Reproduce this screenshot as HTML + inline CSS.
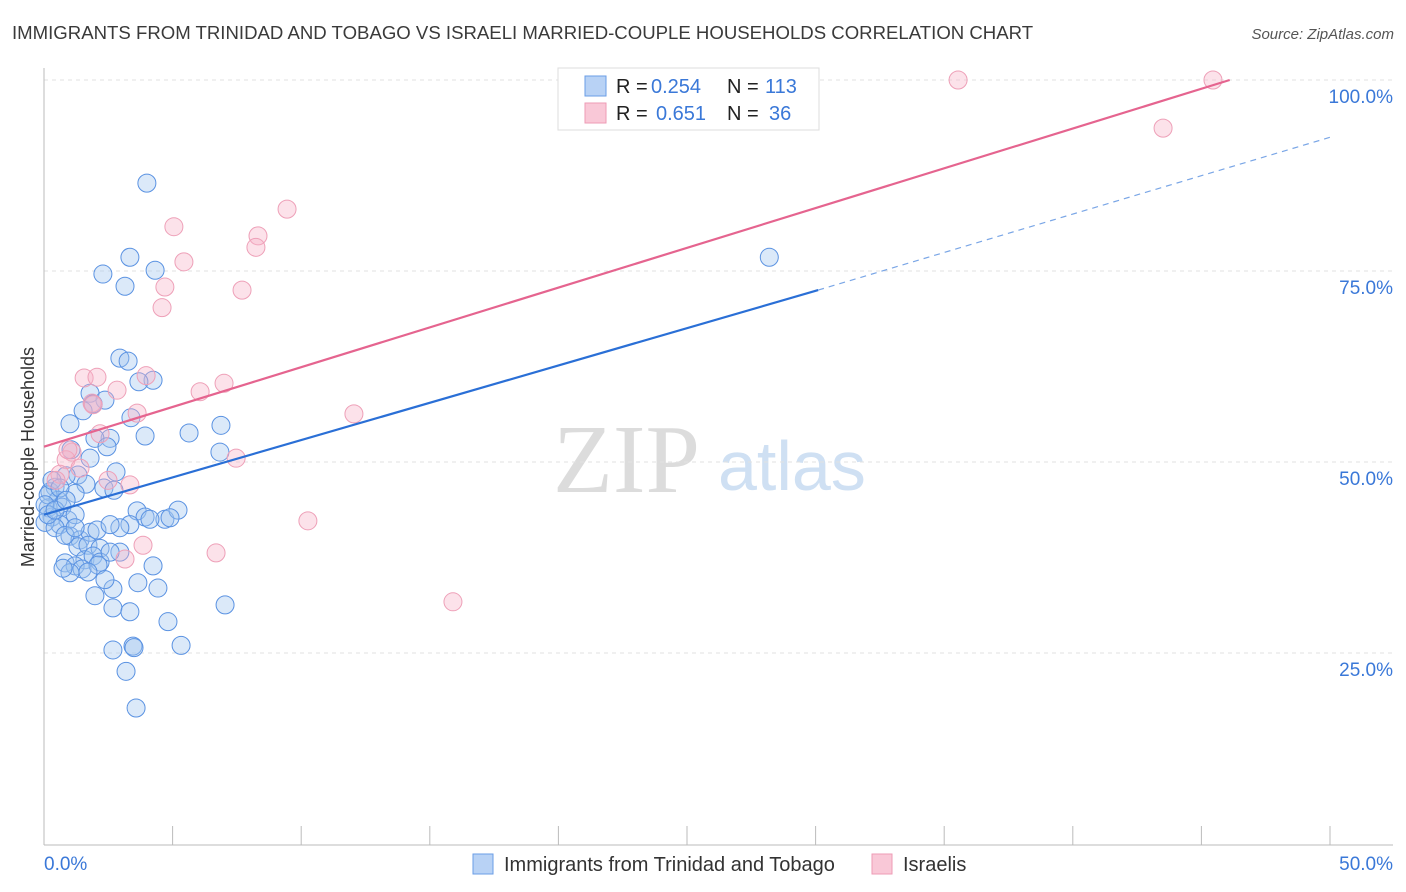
<!DOCTYPE html>
<html><head><meta charset="utf-8"><style>
body{margin:0;background:#fff;font-family:"Liberation Sans",sans-serif;}
#wrap{position:relative;width:1406px;height:892px;overflow:hidden;}
</style></head><body>
<div id="wrap">
<svg id="svg" width="1406" height="892" xmlns="http://www.w3.org/2000/svg">
<text x="12" y="39" font-size="18.6" fill="#3a3a3a">IMMIGRANTS FROM TRINIDAD AND TOBAGO VS ISRAELI MARRIED-COUPLE HOUSEHOLDS CORRELATION CHART</text>
<text x="1394" y="39" font-size="15" fill="#555" font-style="italic" text-anchor="end">Source: ZipAtlas.com</text>
<text x="34" y="457" font-size="18" fill="#333" text-anchor="middle" transform="rotate(-90 34 457)">Married-couple Households</text>
<text x="553" y="492" font-size="98" fill="#dcdcdc" font-family="Liberation Serif,serif">ZIP</text>
<text x="718" y="490" font-size="70" fill="#cfe0f3">atlas</text>
<g id="grid"></g><g id="axes"></g><g id="pts"></g><g id="lines"></g>
<g>
<rect x="558" y="68" width="261" height="62" fill="#fff" stroke="#ddd"/>
<rect x="585" y="76" width="21" height="20" fill="#b8d2f5" stroke="#6a9de6"/>
<rect x="585" y="103" width="21" height="20" fill="#f9c8d7" stroke="#ee9bb6"/>
<text x="616" y="93" font-size="20" fill="#222">R = <tspan x="651" fill="#3a78d8">0.254</tspan><tspan x="727">N = </tspan><tspan x="765" fill="#3a78d8">113</tspan></text>
<text x="616" y="120" font-size="20" fill="#222">R = <tspan x="656" fill="#3a78d8">0.651</tspan><tspan x="727">N = </tspan><tspan x="769" fill="#3a78d8">36</tspan></text>
</g>
<g>
<rect x="473" y="854" width="20" height="20" fill="#b8d2f5" stroke="#6a9de6"/>
<text x="504" y="871" font-size="20" fill="#333">Immigrants from Trinidad and Tobago</text>
<rect x="872" y="854" width="20" height="20" fill="#f9c8d7" stroke="#ee9bb6"/>
<text x="903" y="871" font-size="20" fill="#333">Israelis</text>
</g>
</svg>
</div>
<script>
const blueX=[4.0,3.34,2.29,4.32,3.15,28.2,2.95,3.27,4.24,3.69,1.79,2.37,1.91,1.52,3.38,1.01,6.88,2.57,3.93,5.64,1.98,2.45,1.05,6.84,1.79,2.80,1.32,0.86,1.63,2.33,2.72,1.21,0.43,0.23,0.54,0.16,0.70,0.31,0.93,1.21,0.62,0.04,0.43,3.62,3.93,4.70,5.21,3.34,2.95,1.01,1.40,1.79,2.06,1.32,1.71,2.18,2.95,1.59,1.91,2.18,2.57,0.82,1.21,1.48,1.01,2.10,0.74,4.24,2.68,1.98,3.65,4.43,2.68,3.34,7.04,4.82,2.68,3.46,3.50,5.33,3.19,3.58,0.16,0.31,0.62,0.04,0.16,0.43,0.86,0.82,1.21,2.57,4.12,4.90,1.71,2.37];
const blueY=[86.5,76.8,74.6,75.1,73.0,76.8,63.6,63.2,60.7,60.5,59.0,58.1,57.6,56.7,55.8,55.0,54.8,53.1,53.4,53.8,53.1,52.0,51.6,51.3,50.5,48.7,48.3,48.2,47.1,46.6,46.3,45.9,46.7,46.1,45.0,44.0,44.1,42.8,42.4,43.1,41.8,42.1,41.4,43.6,42.8,42.5,43.7,41.8,41.4,40.3,39.8,40.8,41.1,38.9,39.1,38.7,38.2,37.2,37.7,36.9,38.2,36.8,36.4,36.0,35.5,36.5,36.1,36.4,33.4,32.5,34.2,33.5,30.9,30.4,31.3,29.1,25.4,25.9,25.7,26.0,22.6,17.8,45.7,47.6,46.6,44.4,43.1,43.7,45.0,40.4,41.4,41.8,42.5,42.7,35.6,34.6];
const pinkX=[35.54,45.45,43.51,9.45,5.05,8.32,8.24,5.44,4.70,7.70,4.59,1.56,2.06,3.97,6.07,7.00,2.84,1.87,3.62,12.05,2.18,1.09,0.86,7.47,1.40,0.62,2.49,3.34,10.26,3.85,6.69,3.15,15.9,1.91,0.93,0.47];
const pinkY=[100,100,93.7,83.1,80.8,79.6,78.1,76.2,72.9,72.5,70.2,61.0,61.1,61.3,59.2,60.3,59.4,57.7,56.4,56.3,53.7,51.3,50.3,50.5,49.2,48.4,47.6,47.0,42.3,39.1,38.1,37.3,31.7,57.5,51.6,47.6];
const blueLine=[0,43.1,30.1,72.5,50,92.5];
const pinkLine=[0,52.0,46.1,100];
const yTicks=[25,50,75,100];
const yTickLabels=["25.0%","50.0%","75.0%","100.0%"];
const xTicks=[0,5,10,15,20,25,30,35,40,45,50];
const NS="http://www.w3.org/2000/svg";
const sx=v=>44+v*25.72, sy=v=>844-v*7.64;
function mk(t,a,p){const e=document.createElementNS(NS,t);for(const k in a)e.setAttribute(k,a[k]);p.appendChild(e);return e;}
const grid=document.getElementById('grid'),axes=document.getElementById('axes'),pts=document.getElementById('pts'),lines=document.getElementById('lines');
yTicks.forEach((v,i)=>{
 const l=mk('line',{x1:44,x2:1393,y1:sy(v),y2:sy(v),stroke:'#e2e2e2','stroke-dasharray':'4,4'},grid);
 
 
 const t=mk('text',{x:1393,y:sy(v)+23,'font-size':19,fill:'#3a78d8','text-anchor':'end'},axes);
 t.textContent=yTickLabels[i];
 
 
});
let a=mk('line',{x1:44,x2:44,y1:68,y2:845,stroke:'#bbb'},axes);


a=mk('line',{x1:44,x2:1393,y1:845,y2:845,stroke:'#bbb'},axes);


xTicks.forEach(v=>{const t=mk('line',{x1:sx(v),x2:sx(v),y1:826,y2:845,stroke:'#bbb'},axes);
 
 });
let tl=mk('text',{x:44,y:870,'font-size':19,fill:'#3a78d8'},axes);tl.textContent='0.0%';


tl=mk('text',{x:1393,y:870,'font-size':19,fill:'#3a78d8','text-anchor':'end'},axes);tl.textContent='50.0%';


blueX.forEach((x,i)=>{const c=mk('circle',{cx:sx(x),cy:sy(blueY[i]),r:9,fill:'rgba(160,196,240,0.38)',stroke:'#5a92e2','stroke-width':1},pts);
 
 });
pinkX.forEach((x,i)=>{const c=mk('circle',{cx:sx(x),cy:sy(pinkY[i]),r:9,fill:'rgba(246,180,200,0.38)',stroke:'#eea0b8','stroke-width':1},pts);
 
 });
let L=mk('line',{x1:sx(blueLine[0]),y1:sy(blueLine[1]),x2:sx(blueLine[2]),y2:sy(blueLine[3]),stroke:'#2a6fd6','stroke-width':2.2},lines);


L=mk('line',{x1:sx(blueLine[2]),y1:sy(blueLine[3]),x2:sx(blueLine[4]),y2:sy(blueLine[5]),stroke:'#7aa6e6','stroke-width':1.2,'stroke-dasharray':'6,5'},lines);


L=mk('line',{x1:sx(pinkLine[0]),y1:sy(pinkLine[1]),x2:sx(pinkLine[2]),y2:sy(pinkLine[3]),stroke:'#e5648f','stroke-width':2.2},lines);


</script>
</body></html>
